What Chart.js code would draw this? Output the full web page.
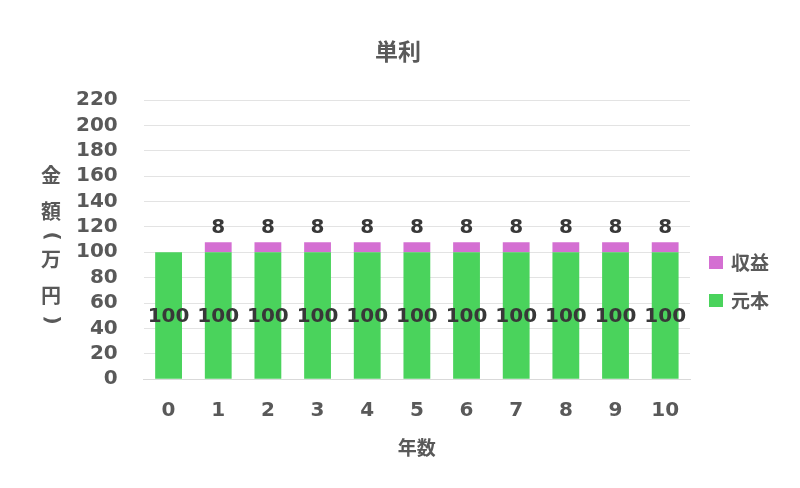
<!DOCTYPE html>
<html>
<head>
<meta charset="utf-8">
<script src="https://cdn.jsdelivr.net/npm/chart.js@4/dist/chart.umd.min.js"></script>
<style>
  html, body { margin: 0; padding: 0; background: #fff; }
  #wrap { width: 800px; height: 488px; }
</style>
</head>
<body>
<div id="wrap"><canvas id="c" width="800" height="488"></canvas></div>
<script>
var years = ['0', '1', '2', '3', '4', '5', '6', '7', '8', '9', '10'];
var principal = [100, 100, 100, 100, 100, 100, 100, 100, 100, 100, 100];
var profit = [0, 8, 8, 8, 8, 8, 8, 8, 8, 8, 8];
var chartTitle = '単利';
var yTitle = '金額(万円)';

var FONT = "'DejaVu Sans', 'Noto Sans CJK JP', sans-serif";
var TEXT = '#595959';
var GREEN = '#4ad35c';
var PINK = '#d46fd2';

// title centred on the whole picture, labels on bars, vertical axis title, legend
var extras = {
  id: 'extras',
  afterDatasetsDraw: function(chart) {
    var ctx = chart.ctx;
    ctx.save();
    ctx.textAlign = 'center';
    ctx.textBaseline = 'middle';

    ctx.fillStyle = TEXT;
    ctx.font = 'bold 23px ' + FONT;
    ctx.fillText(chartTitle, chart.width / 2 - 2, 54);

    ctx.fillStyle = '#383838';
    ctx.font = 'bold 20px ' + FONT;
    chart.getDatasetMeta(0).data.forEach(function(bar, i) {
      ctx.fillText(principal[i], bar.x, (bar.y + bar.base) / 2 + 1);
    });
    chart.getDatasetMeta(1).data.forEach(function(bar, i) {
      if (profit[i] > 0) ctx.fillText(profit[i], bar.x, bar.y - 14);
    });

    // y title written top to bottom, brackets turned a quarter and given less room
    ctx.fillStyle = TEXT;
    ctx.font = 'bold 20px ' + FONT;
    var chars = yTitle.split('');
    var y = 178;
    chars.forEach(function(ch, i) {
      var isBr = ch === '(' || ch === ')';
      if (i > 0) {
        var prevBr = chars[i - 1] === '(' || chars[i - 1] === ')';
        y += (isBr || prevBr) ? 24 : 36;
      }
      if (isBr) {
        ctx.save();
        ctx.translate(51, y - 2);
        ctx.rotate(Math.PI / 2);
        ctx.fillText(ch, 0, 0);
        ctx.restore();
      } else {
        ctx.fillText(ch, 51, y);
      }
    });

    // legend
    var items = [[PINK, '収益'], [GREEN, '元本']];
    ctx.textAlign = 'left';
    ctx.font = 'bold 19px ' + FONT;
    items.forEach(function(it, i) {
      var ly = 263 + i * 38;
      ctx.fillStyle = it[0];
      ctx.fillRect(709, ly - 7, 14, 13);
      ctx.fillStyle = TEXT;
      ctx.fillText(it[1], 731, ly + 2);
    });
    ctx.restore();
  }
};

new Chart(document.getElementById('c'), {
  type: 'bar',
  data: {
    labels: years,
    datasets: [{
      label: '元本',
      data: principal,
      backgroundColor: GREEN,
      stack: 's'
    }, {
      label: '収益',
      data: profit,
      backgroundColor: PINK,
      stack: 's'
    }]
  },
  options: {
    responsive: false,
    animation: false,
    devicePixelRatio: 1,
    layout: {
      padding: { left: 50, right: 110, top: 100, bottom: 23 }
    },
    datasets: {
      bar: { categoryPercentage: 1, barPercentage: 0.54 }
    },
    plugins: {
      legend: { display: false },
      tooltip: { enabled: false },
      title: { display: false }
    },
    scales: {
      x: {
        stacked: true,
        grid: { display: false },
        border: { display: true, color: '#d9d9d9' },
        ticks: {
          color: TEXT,
          padding: 12,
          autoSkip: false,
          maxRotation: 0,
          font: { family: FONT, size: 20, weight: 'bold' }
        },
        title: {
          display: true,
          text: '年数',
          color: TEXT,
          padding: { top: 3 },
          font: { family: FONT, size: 19, weight: 'bold' }
        }
      },
      y: {
        stacked: true,
        min: 0,
        max: 220,
        grid: { color: '#e3e3e3', drawTicks: false },
        border: { display: false },
        ticks: {
          stepSize: 20,
          autoSkip: false,
          color: TEXT,
          padding: 26,
          font: { family: FONT, size: 20, weight: 'bold' }
        }
      }
    }
  },
  plugins: [extras]
});
</script>
</body>
</html>
